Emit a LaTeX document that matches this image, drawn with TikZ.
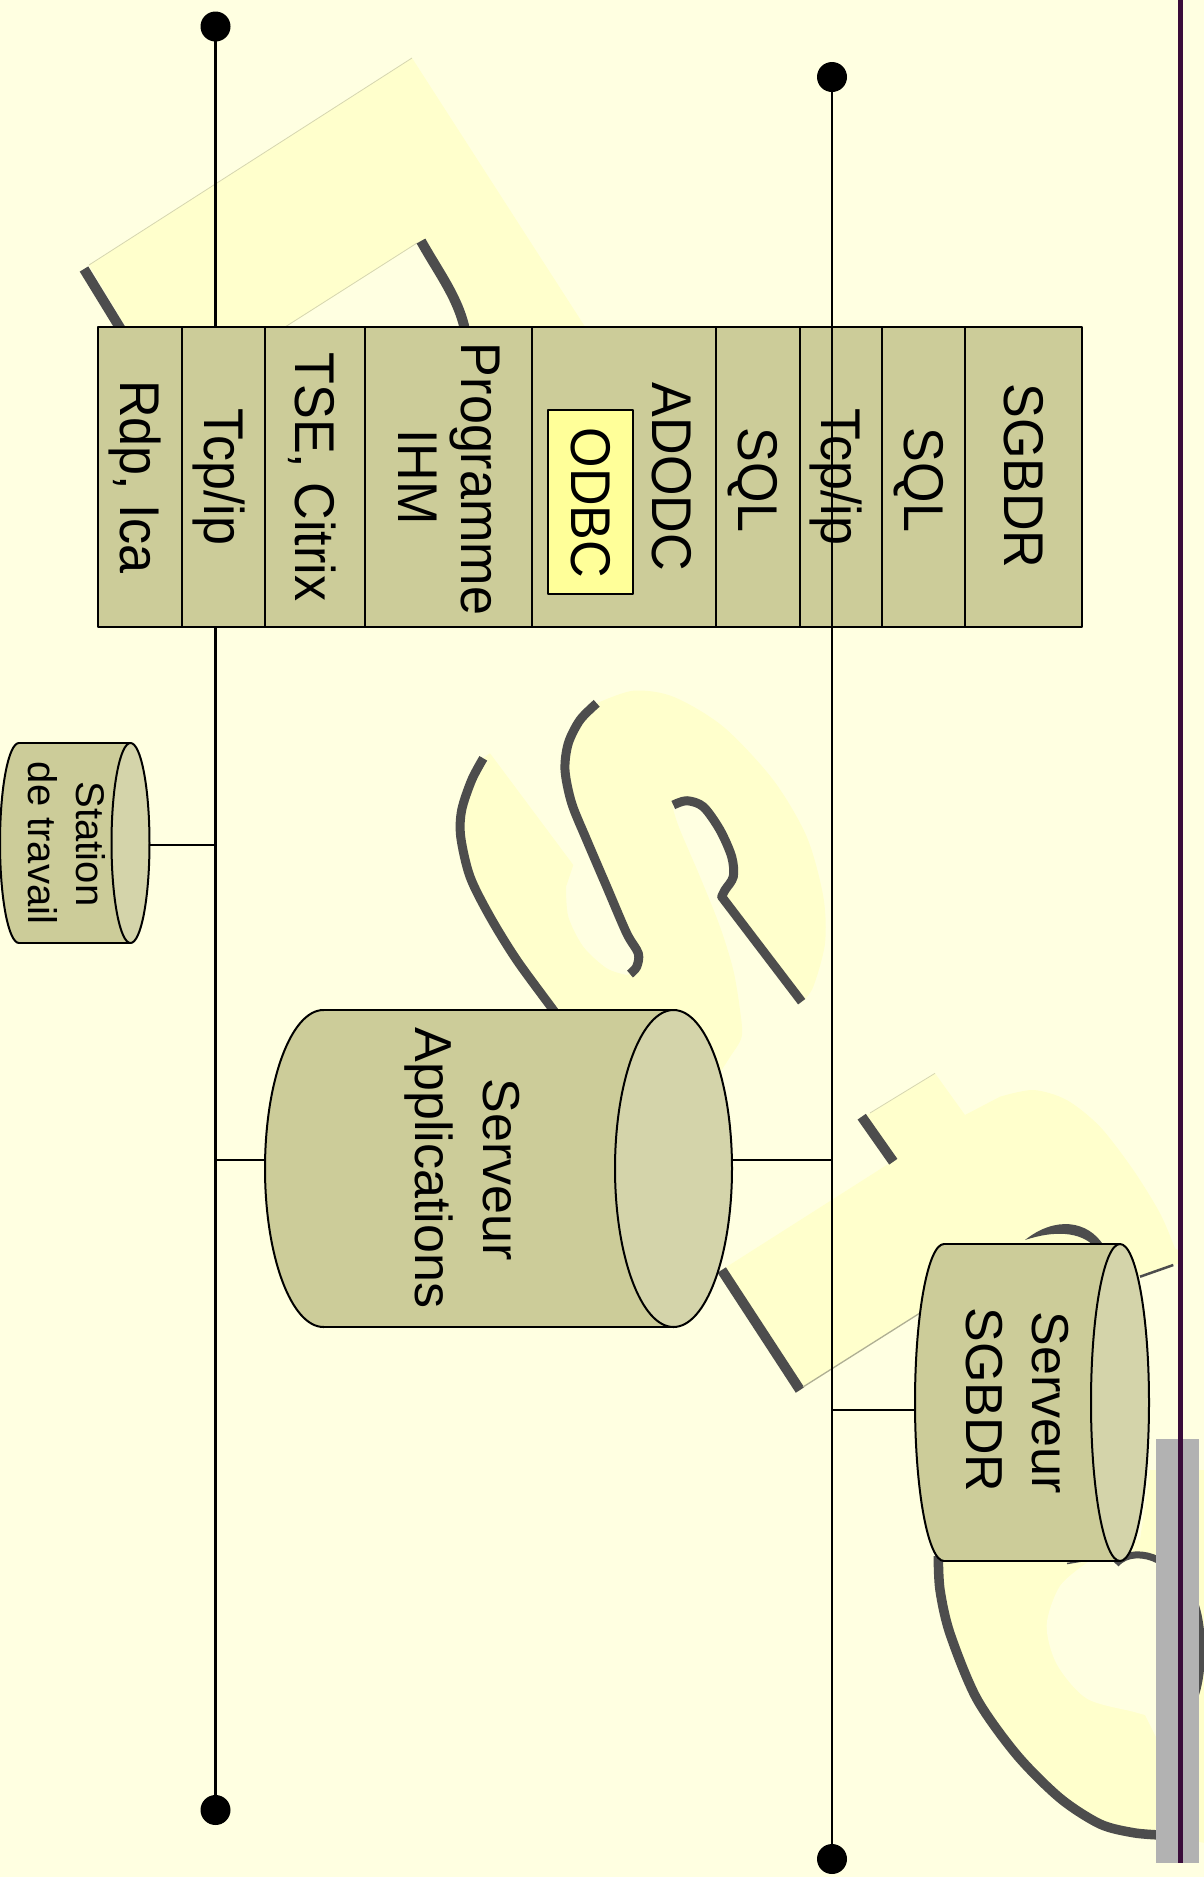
\documentclass[tikz,border=0pt]{standalone}
\usepackage{fontspec}
\setmainfont{Liberation Sans}
\usepackage{graphicx}
\definecolor{bgc}{HTML}{FFFFE1}
\definecolor{wmc}{HTML}{FFFFCC}
\definecolor{shc}{HTML}{4D4D4D}
\definecolor{stackc}{HTML}{CCCC99}
\definecolor{endc}{HTML}{D4D4AA}
\definecolor{odbcc}{HTML}{FFFF99}
\definecolor{grayc}{HTML}{B2B2B2}
\definecolor{purpc}{HTML}{3A0C3A}
\definecolor{hairc}{HTML}{D6D6B0}
\newcommand\cnd[1]{\scalebox{0.93}[1]{#1}}
\newcommand\drawcyl[5]{%
  \filldraw[fill=stackc, draw=black, line width=2] (#1,#3) ellipse [x radius=#4, y radius=#5];
  \fill[stackc] (#1,{#3-#5}) rectangle (#2,{#3+#5});
  \draw[line width=2] (#1,{#3-#5}) -- (#2,{#3-#5}) (#1,{#3+#5}) -- (#2,{#3+#5});
  \filldraw[fill=endc, draw=black, line width=2] (#2,#3) ellipse [x radius=#4, y radius=#5];
}
\tikzset{
  lab/.style={rotate=-90, anchor=base, inner sep=0pt, outer sep=0pt, font=\fontsize{56}{60}\selectfont},
  clab/.style={rotate=-90, anchor=base, inner sep=0pt, outer sep=0pt, font=\fontsize{52}{56}\selectfont},
  slab/.style={rotate=-90, anchor=base, inner sep=0pt, outer sep=0pt, font=\fontsize{40}{44}\selectfont},
  cell/.style={draw=black, line width=2.2, fill=stackc, inner sep=0pt, minimum height=300},
  dotnode/.style={circle, fill=black, inner sep=0pt, minimum size=30},
  bus/.style={draw=black, line width=2.3},
  link/.style={draw=black, line width=2},
  shadowline/.style={draw=shc, line width=9},
}
\begin{document}
\begin{tikzpicture}[x=1pt,y=-1pt,line join=round]
\useasboundingbox (0,0) rectangle (1204,1877);
\fill[bgc] (0,0) rectangle (1204,1877);

% ---------- watermark letters ----------
% top letter
\fill[wmc] (89,265) -- (412,58) -- (600,350) -- (472,350) -- (470.5,330) .. controls (464.5,298) and (444.5,273) .. (425.5,239) -- (417,243) -- (270,337) -- (131.7,337) -- cycle;
\draw[hairc, line width=0.8] (89,265) -- (412,58) (285,327) -- (417,243);
\draw[shadowline, line width=10] (84,269) -- (122,331);
\draw[shadowline, line width=10] (421,241) .. controls (440,275) and (460,300) .. (466,335);

% S
\fill[wmc] plot[smooth] coordinates {(596.7,703.3) (633.3,690.7) (673.3,696.7) (723.3,726.7) (773.3,780) (806.7,836.7) (823.3,896.7) (825,943.3) (813.3,986.7) (803,1001)}
 -- (723.3,896.7)
 -- plot[smooth] coordinates {(725,890) (733.3,876.7) (731.7,856.7) (720,830) (703.3,806.7) (686.7,800.7) (673.3,805)}
 -- plot[smooth] coordinates {(673.3,810) (680,830) (700,876.7) (720,926.7) (733.3,970) (740,1010) (741.7,1036.7) (730,1057) (715,1080)}
 -- (700,1150) -- (560,1150)
 -- plot[smooth] coordinates {(553.3,1010) (516.7,960) (490,916.7) (470,876.7) (460.7,836.7) (461.7,810) (471.7,780) (483.3,758.3)}
 -- (490,753.3) -- (573.3,865)
 -- plot[smooth] coordinates {(566,886.7) (568.3,916.7) (583.3,946.7) (606.7,968.3) (626.7,975)}
 -- plot[smooth] coordinates {(630,974) (636.7,966.7) (638.3,953.3) (626.7,933.3) (606.7,886.7) (586.7,840) (571.7,803.3) (565,770) (568.3,743.3) (580,720) (596.7,703.3)}
 -- cycle;
\draw[shadowline] plot[smooth] coordinates {(483.3,758.3) (471.7,780) (461.7,810) (460.7,836.7) (470,876.7) (490,916.7) (516.7,960) (553.3,1010) (560,1020)};
\draw[shadowline] plot[smooth] coordinates {(596.7,703.3) (580,720) (568.3,743.3) (565,770) (571.7,803.3) (586.7,840) (606.7,886.7) (626.7,933.3) (638.3,953.3) (636.7,966.7) (630,974)};
\draw[shadowline] plot[smooth] coordinates {(673.3,805) (686.7,800.7) (703.3,806.7) (720,830) (731.7,856.7) (733.3,876.7) (725,890) (721.7,896.7)} -- (801.7,1001.7);

% t and upper part of last letter
\fill[wmc] (866,1116) -- (935,1073.3) -- (965,1115) -- plot[smooth] coordinates {(1000,1096.7) (1033.3,1090) (1066.7,1100) (1100,1126.7) (1133.3,1170) (1160,1213.3) (1175,1248.3)} -- (1181,1252) -- (1181,1263) -- (1173.3,1265) -- (1140,1276.7) -- (1000,1300) -- (920,1313) -- (803,1387) -- (721.7,1270) -- (886.7,1165) -- (893.3,1161.7) -- cycle;
\draw[shadowline, line width=10] (861.7,1116.7) -- (893.3,1161.7);
\draw[shadowline, line width=10] (721.7,1270) -- (800,1390);
\draw[shc, line width=2.5] (1140,1276.7) -- (1173.3,1265);
\draw[shc!45!wmc, line width=1.3] (803,1387) -- (920,1313);
\draw[hairc, line width=0.8] (870,1113) -- (935,1073.3);
\fill[shc] (1025,1240) .. controls (1055,1216) and (1088,1220) .. (1104,1246) -- (1094,1246) .. controls (1080,1232) and (1055,1230) .. (1025,1240) -- cycle;

% lower part of last letter
\fill[wmc] (940,1540) -- plot[smooth] coordinates {(938.3,1560) (940,1590) (950,1633.6) (976.7,1698.6) (1016.7,1754.8) (1060,1798.1) (1100,1824) (1133.3,1832.7) (1156.7,1834.9) (1180,1838)} -- (1215,1845) -- (1215,1470) -- (1150,1470) -- (1140,1540) -- cycle;
\fill[bgc] (1088,1562) -- plot[smooth] coordinates {(1088,1562) (1060,1586) (1046.7,1625) (1056.7,1664) (1086.7,1698.5) (1133.3,1711.7) (1145,1715)} -- (1160,1745) -- (1160,1556) -- (1130,1552) -- cycle;
\draw[shadowline, line width=9.5] plot[smooth] coordinates {(938.3,1556) (940,1590) (950,1633.6) (976.7,1698.6) (1016.7,1754.8) (1060,1798.1) (1100,1824) (1133.3,1832.7) (1160,1835)};
\draw[shadowline, line width=7] (1116,1564) .. controls (1126,1552) and (1145,1553) .. (1158,1560);
\draw[shc, line width=1.5] (1067,1563.5) -- (1088,1560);
\fill[shc] (1199,1605) .. controls (1207,1630) and (1207,1670) .. (1199,1695) -- cycle;

% ---------- buses ----------
\node[dotnode] (ltop) at (215.5,26.5) {};
\node[dotnode] (lbot) at (215.5,1810) {};
\node[dotnode] (rtop) at (832,77) {};
\node[dotnode] (rbot) at (832,1859) {};
\draw[bus] (ltop.center) -- (lbot.center);

% ---------- protocol stack ----------
\node[cell, minimum width=84]  (c1) at (140,477) {};
\node[cell, minimum width=83]  (c2) at (223.5,477) {};
\node[cell, minimum width=100] (c3) at (315,477) {};
\node[cell, minimum width=167] (c4) at (448.5,477) {};
\node[cell, minimum width=184] (c5) at (624,477) {};
\node[cell, minimum width=84]  (c6) at (758,477) {};
\node[cell, minimum width=82]  (c7) at (841,477) {};
\node[cell, minimum width=83]  (c8) at (923.5,477) {};
\node[cell, minimum width=117] (c9) at (1023.5,477) {};
\node[draw=black, line width=1.8, fill=odbcc, inner sep=0pt, minimum width=85, minimum height=184] (odbc) at (590.5,502) {};

\node[lab] (t1) at (120.5,477) {\cnd{Rdp, Ica}};
\node[lab] (t2) at (204,477) {\cnd{Tcp/ip}};
\node[lab] (t3) at (295.5,477) {\cnd{TSE, Citrix}};
\node[lab] (t4a) at (461.5,479) {\cnd{Programme}};
\node[lab] (t4b) at (398.5,477) {\cnd{IHM}};
\node[lab] (t5) at (652,477) {\cnd{ADODC}};
\node[lab] (t5b) at (571,503) {\cnd{ODBC}};
\node[lab] (t6) at (738.5,480) {\cnd{SQL}};
\node[lab] (t7) at (821.5,477) {\cnd{Tcp/ip}};
\node[lab] (t8) at (904,480) {\cnd{SQL}};
\node[lab] (t9) at (1004,476) {\cnd{SGBDR}};

\draw[bus] (rtop.center) -- (rbot.center);

% ---------- connectors ----------
\coordinate (stE) at (149.5,845);
\coordinate (lbS) at (215.5,845);
\coordinate (appW) at (265,1160);
\coordinate (lbA) at (215.5,1160);
\coordinate (appE) at (732,1160);
\coordinate (rbA) at (832,1160);
\coordinate (dbW) at (915,1410);
\coordinate (rbD) at (832,1410);
\draw[link] (stE) -- (lbS);
\draw[link] (lbA) -- (appW);
\draw[link] (appE) -- (rbA);
\draw[link] (rbD) -- (dbW);

% ---------- cylinders ----------
\drawcyl{19}{130.5}{843}{19}{100}
\drawcyl{323.5}{673.5}{1168.5}{58.5}{158.5}
\drawcyl{944}{1120}{1402.5}{29}{158.5}

\node[slab] (s1) at (76,844) {Station};
\node[slab] (s2) at (28,843) {de travail};
\node[clab] (a1) at (483,1170) {Serveur};
\node[clab] (a2) at (415,1168) {Applications};
\node[clab] (d1) at (1032,1403) {Serveur};
\node[clab] (d2) at (966,1400) {SGBDR};

% ---------- right margin ----------
\fill[grayc] (1156,1439) rectangle (1199,1863);
\draw[purpc, line width=5] (1180,0) -- (1180,1863);
\end{tikzpicture}
\end{document}
